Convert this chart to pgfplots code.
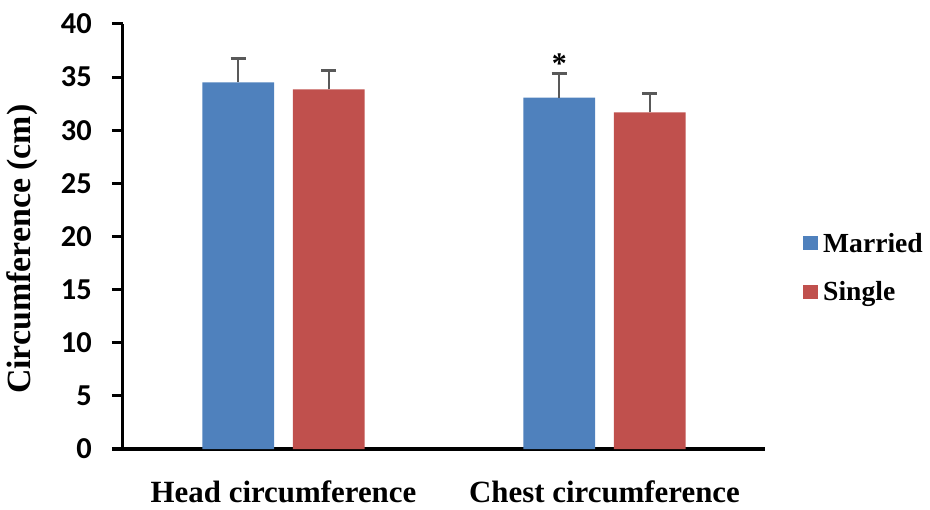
\documentclass[border=0pt]{standalone}
\usepackage{fontspec}
\setmainfont{Liberation Serif}
\newfontfamily\tickfont{Carlito}
\usepackage{pgfplots}
\pgfplotsset{compat=1.18}
\definecolor{married}{HTML}{4F81BD}
\definecolor{single}{HTML}{C0504D}
\definecolor{errgray}{HTML}{595959}
\begin{document}
\begin{tikzpicture}
\begin{axis}[
  scale only axis, width=642bp, height=425bp,
  ymin=0, ymax=40, ytick={0,5,...,40},
  xmin=-0.5, xmax=1.5, xtick={0,1},
  xticklabels={Head circumference, Chest circumference},
  axis x line*=bottom, axis y line*=left,
  axis line style={line width=3bp, black},
  every tick/.style={line width=3bp, black},
  tick align=outside,
  major tick length=11bp,
  x tick style={draw=none},
  /pgf/number format/assume math mode=true,
  yticklabel style={font=\tickfont\bfseries\fontsize{30.5}{36}\selectfont, inner sep=0pt, xshift=-20bp},
  xticklabel style={font=\bfseries\fontsize{31}{36}\selectfont, inner sep=0pt, text depth=0pt, yshift=-21bp},
  every axis y label/.style={at={(axis description cs:-0.157,0.47)}, rotate=90, anchor=center},
  ylabel={Circumference (cm)},
  label style={font=\bfseries\fontsize{34}{38}\selectfont},
  ybar, bar width=0.223,
  every axis plot post/.append style={legend image code/.code={\fill[##1] (0bp,-7bp) rectangle (15bp,7bp);}},
  legend style={at={(1.0545,0.427)}, anchor=west, draw=none, fill=none,
    font=\bfseries\fontsize{27.7}{33}\selectfont, row sep=24bp,
    nodes={inner xsep=5bp}},
  legend cell align=left,
  clip=false,
]
\coordinate (ll) at (rel axis cs:0,0);
\addplot[fill=married, draw=none, bar shift=-0.141,
  error bars/.cd, y dir=plus, y explicit,
  error bar style={line width=2.5bp, errgray},
  error mark options={rotate=90, mark size=7.5bp, line width=2.5bp, errgray}]
  coordinates {(0,34.51) +- (0,2.26) (1,33.07) +- (0,2.27)};
\addlegendentry{Married}
\addplot[fill=single, draw=none, bar shift=0.141,
  error bars/.cd, y dir=plus, y explicit,
  error bar style={line width=2.5bp, errgray},
  error mark options={rotate=90, mark size=7.5bp, line width=2.5bp, errgray}]
  coordinates {(0,33.85) +- (0,1.75) (1,31.69) +- (0,1.79)};
\addlegendentry{Single}
\node[anchor=base, font=\bfseries\fontsize{30}{30}\selectfont] at (axis cs:0.859,35.35) {*};
\end{axis}
\pgfresetboundingbox
\path ([shift={(-123bp,-61bp)}]ll) rectangle ([shift={(807bp,449bp)}]ll);
\end{tikzpicture}
\end{document}
